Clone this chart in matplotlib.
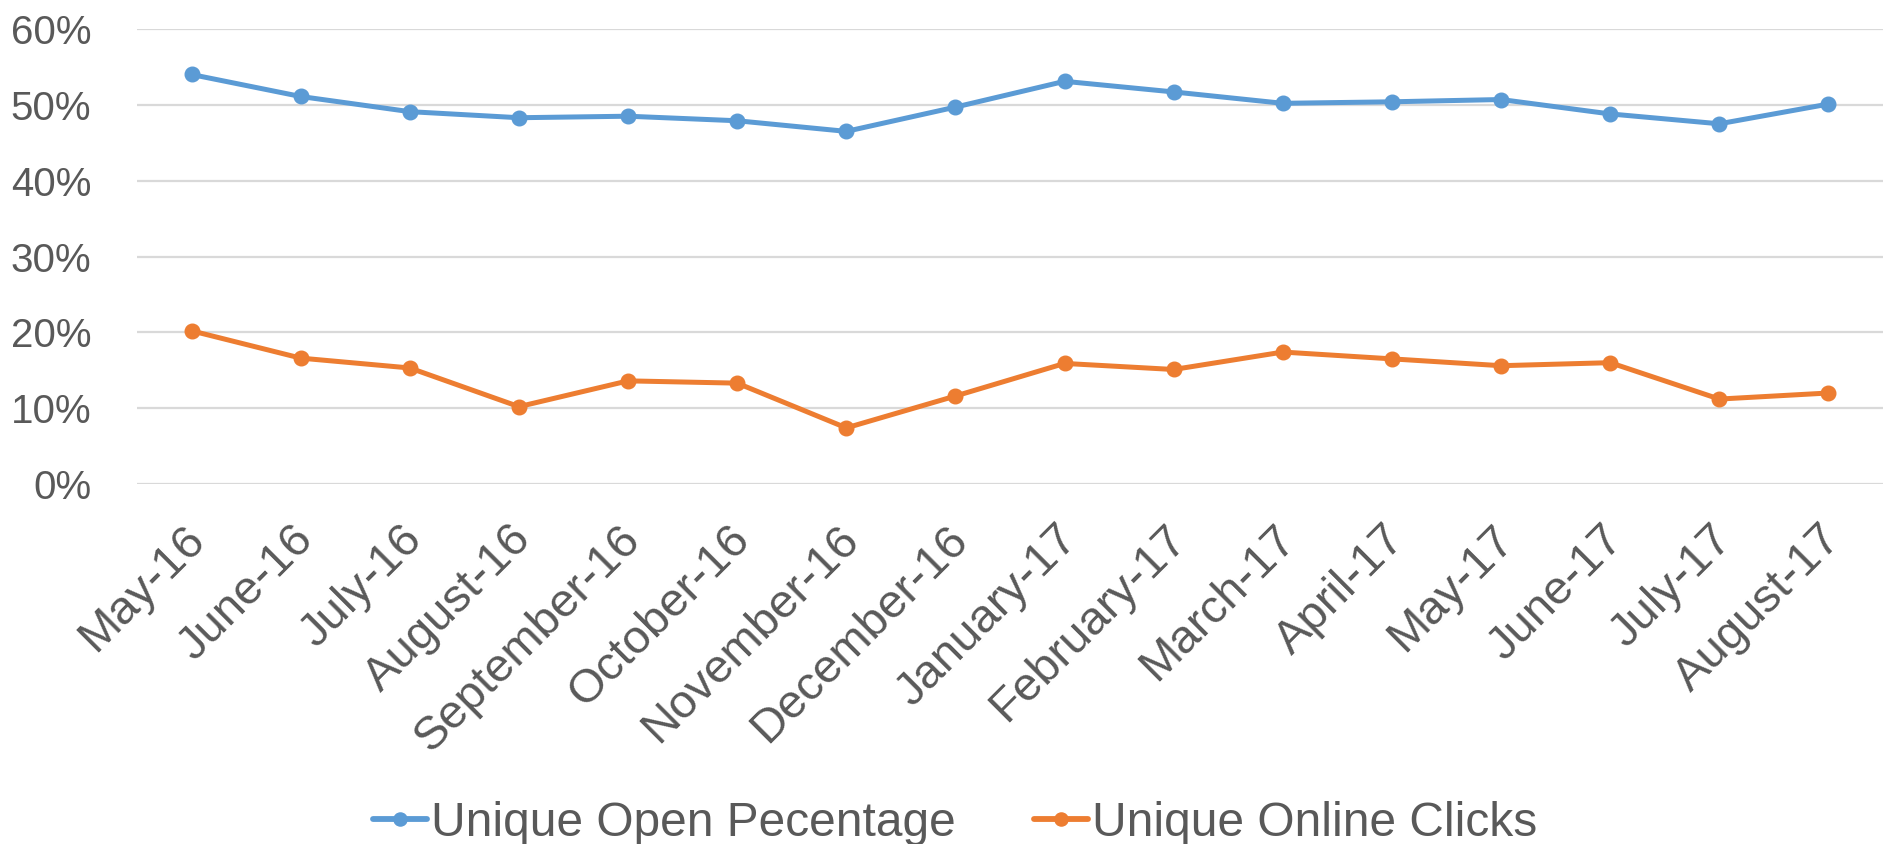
import matplotlib
matplotlib.use("Agg")
import matplotlib.pyplot as plt
import matplotlib.transforms as mtransforms
from matplotlib.ticker import PercentFormatter

months = ["May-16", "June-16", "July-16", "August-16", "September-16", "October-16",
          "November-16", "December-16", "January-17", "February-17", "March-17",
          "April-17", "May-17", "June-17", "July-17", "August-17"]
open_pct = [54.0, 51.1, 49.1, 48.3, 48.5, 47.9, 46.5, 49.7,
            53.1, 51.7, 50.2, 50.4, 50.7, 48.8, 47.5, 50.1]
click_pct = [20.2, 16.6, 15.3, 10.2, 13.6, 13.3, 7.4, 11.6,
             15.9, 15.1, 17.4, 16.5, 15.6, 16.0, 11.2, 12.0]

plt.rcParams["font.family"] = ["Liberation Sans", "DejaVu Sans"]
text_color = "#595959"

fig = plt.figure(figsize=(18.84, 8.44), dpi=100)
ax = fig.add_axes([137 / 1884, 1 - 484 / 844, 1746 / 1884, (484 - 29) / 844])

x = list(range(len(months)))
ax.plot(x, [v / 100 for v in open_pct], color="#5B9BD5", lw=3.6, marker="o",
        markersize=10.5, label="Unique Open Pecentage", solid_capstyle="round", zorder=3)
ax.plot(x, [v / 100 for v in click_pct], color="#ED7D31", lw=3.6, marker="o",
        markersize=10.5, label="Unique Online Clicks", solid_capstyle="round", zorder=3)

ax.set_xlim(-0.5, len(months) - 0.5)
ax.set_ylim(0, 0.6)
ax.set_yticks([0, 0.1, 0.2, 0.3, 0.4, 0.5, 0.6])
ax.yaxis.set_major_formatter(PercentFormatter(1.0, decimals=0))
ax.grid(axis="y", color="#D9D9D9", lw=1.6)
ax.set_axisbelow(True)
for s in ax.spines.values():
    s.set_visible(False)

ax.set_xticks(x)
ax.set_xticklabels(months, rotation=45, ha="right", va="center",
                   rotation_mode="anchor", fontsize=34, color=text_color)
ax.tick_params(axis="x", length=0, pad=35)
ax.tick_params(axis="y", length=0, pad=33, labelsize=29, labelcolor=text_color)

# nudge the slanted labels a little to the right, like the original
shift = mtransforms.ScaledTranslation(6 / 100, 0, fig.dpi_scale_trans)
for lbl in ax.get_xticklabels():
    lbl.set_transform(lbl.get_transform() + shift)

leg = fig.legend(loc="center", bbox_to_anchor=(0.507, 1 - 823 / 844), ncol=2,
                 frameon=False, fontsize=34.5, handlelength=1.12, handletextpad=0.08,
                 columnspacing=1.65, labelcolor=text_color, markerscale=0.9)
for line in leg.get_lines():
    line.set_linewidth(4.2)

fig.savefig("out.png", dpi=100)
